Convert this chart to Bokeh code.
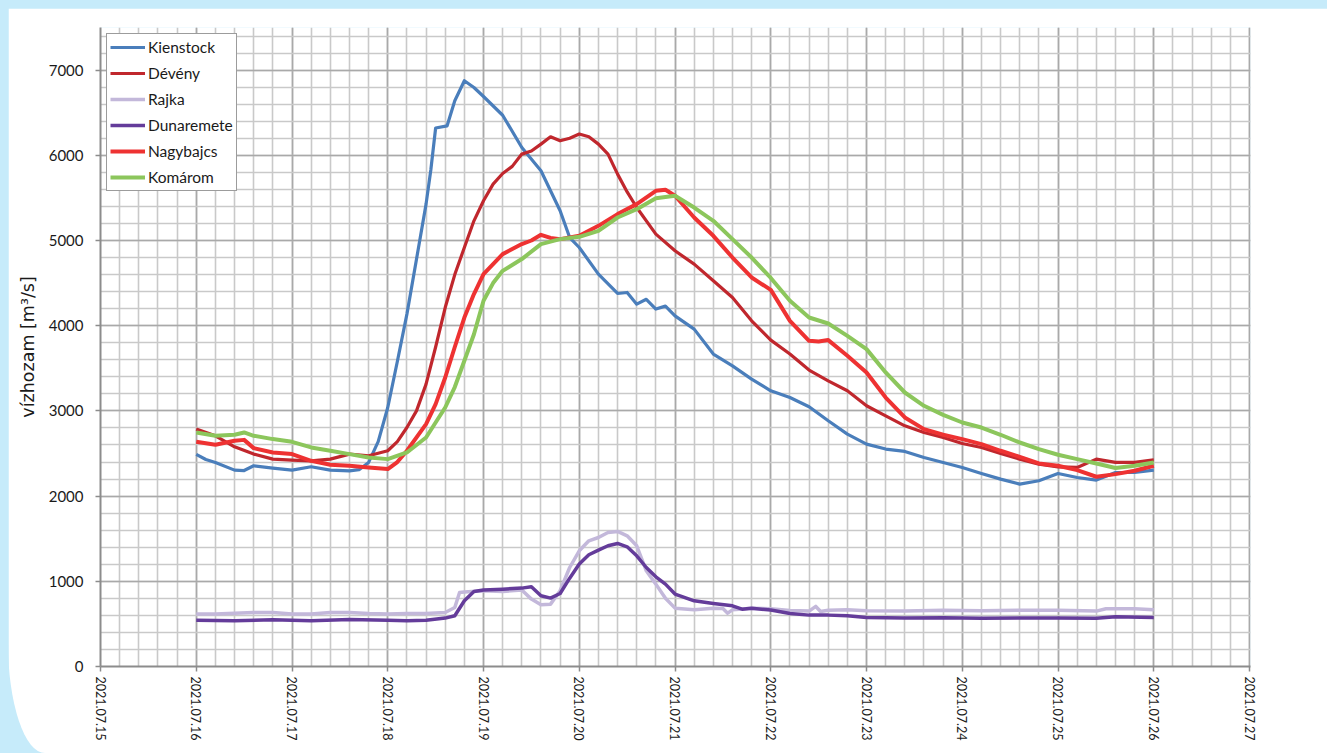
from bokeh.plotting import figure
from bokeh.models import SingleIntervalTicker, Legend, LegendItem, Range1d, Spacer
from bokeh.layouts import column, row
from bokeh.embed import file_html
from bokeh.resources import INLINE

# ---- data (day of July 2021, discharge m3/s) ----
days = list(range(15, 28))
day_labels = [f"2021.07.{d:02d}" for d in days]

kienstock_t = [16.0, 16.1, 16.2, 16.4, 16.5, 16.6, 16.8, 17.0, 17.2, 17.4, 17.6, 17.7, 17.8, 17.9,
               18.0, 18.1, 18.2, 18.3, 18.4, 18.45, 18.5, 18.62, 18.7, 18.8, 18.9, 19.0, 19.2, 19.4,
               19.6, 19.8, 19.9, 20.0, 20.2, 20.4, 20.5, 20.6, 20.7, 20.8, 20.9, 21.0, 21.2, 21.4,
               21.6, 21.8, 22.0, 22.2, 22.4, 22.6, 22.8, 23.0, 23.2, 23.4, 23.6, 23.8, 24.0, 24.2,
               24.4, 24.6, 24.8, 25.0, 25.2, 25.4, 25.6, 25.8, 26.0]
kienstock_q = [2490, 2430, 2395, 2305, 2300, 2356, 2329, 2305, 2344, 2305, 2297, 2310, 2395, 2640,
               3040, 3580, 4136, 4780, 5427, 5830, 6320, 6346, 6640, 6875, 6796, 6690, 6470, 6092,
               5818, 5349, 5035, 4918, 4606, 4378, 4390, 4253, 4310, 4195, 4230, 4116, 3960, 3667,
               3529, 3373, 3236, 3157, 3048, 2884, 2728, 2610, 2552, 2524, 2453, 2395, 2336, 2265,
               2199, 2141, 2180, 2265, 2218, 2188, 2277, 2277, 2305]

deveny_t = [16.0, 16.2, 16.4, 16.6, 16.8, 17.0, 17.2, 17.4, 17.6, 17.8, 18.0, 18.1, 18.2, 18.3,
            18.4, 18.5, 18.6, 18.7, 18.8, 18.9, 19.0, 19.1, 19.2, 19.3, 19.4, 19.5, 19.6, 19.7,
            19.8, 19.9, 20.0, 20.1, 20.2, 20.3, 20.4, 20.5, 20.6, 20.8, 21.0, 21.2, 21.4, 21.6,
            21.8, 22.0, 22.2, 22.4, 22.6, 22.8, 23.0, 23.2, 23.4, 23.6, 23.8, 24.0, 24.2, 24.4,
            24.6, 24.8, 25.0, 25.2, 25.4, 25.6, 25.8, 26.0]
deveny_q = [2786, 2708, 2579, 2493, 2434, 2423, 2414, 2434, 2493, 2473, 2532, 2640, 2805, 3000,
            3314, 3750, 4213, 4600, 4918, 5231, 5466, 5662, 5786, 5870, 6014, 6050, 6131, 6217,
            6170, 6200, 6249, 6217, 6131, 6014, 5779, 5570, 5387, 5075, 4879, 4723, 4527, 4331,
            4057, 3831, 3667, 3479, 3353, 3236, 3060, 2942, 2825, 2746, 2688, 2617, 2570, 2500,
            2434, 2375, 2344, 2336, 2434, 2395, 2395, 2426]

rajka_t = [16.0, 16.2, 16.4, 16.6, 16.8, 17.0, 17.2, 17.4, 17.6, 17.8, 18.0, 18.2, 18.4, 18.6,
           18.7, 18.75, 18.8, 19.0, 19.2, 19.4, 19.5, 19.6, 19.7, 19.8, 19.9, 20.0, 20.1, 20.2,
           20.3, 20.4, 20.5, 20.6, 20.7, 20.8, 20.9, 21.0, 21.2, 21.4, 21.5, 21.55, 21.6, 21.8,
           22.0, 22.2, 22.4, 22.47, 22.52, 22.6, 22.8, 23.0, 23.4, 23.8, 24.2, 24.6, 25.0, 25.4,
           25.5, 25.8, 26.0]
rajka_q = [615, 615, 626, 634, 634, 615, 615, 634, 634, 622, 615, 622, 622, 634,
           693, 869, 875, 889, 881, 897, 791, 724, 732, 889, 1162, 1358, 1475, 1514,
           1573, 1585, 1534, 1417, 1123, 967, 800, 685, 665, 685, 680, 626, 665, 685,
           677, 657, 650, 705, 645, 660, 665, 655, 650, 660, 655, 660, 660, 650,
           677, 677, 665]

dunaremete_t = [16.0, 16.4, 16.8, 17.2, 17.6, 18.0, 18.2, 18.4, 18.6, 18.7, 18.8, 18.9, 19.0,
                19.2, 19.4, 19.5, 19.6, 19.7, 19.8, 19.9, 20.0, 20.1, 20.2, 20.3, 20.4, 20.5,
                20.6, 20.7, 20.8, 20.9, 21.0, 21.2, 21.4, 21.6, 21.7, 21.8, 22.0, 22.2, 22.4,
                22.6, 22.8, 23.0, 23.4, 23.8, 24.2, 24.6, 25.0, 25.4, 25.6, 26.0]
dunaremete_q = [544, 537, 548, 537, 552, 544, 537, 544, 568, 595, 771, 881, 897,
                908, 920, 936, 830, 803, 857, 1037, 1202, 1311, 1366, 1417, 1444, 1405,
                1299, 1162, 1053, 967, 850, 771, 740, 712, 673, 685, 662, 622, 603,
                603, 595, 575, 568, 572, 565, 570, 568, 565, 583, 575]

nagybajcs_t = [16.0, 16.2, 16.4, 16.5, 16.6, 16.8, 17.0, 17.2, 17.4, 17.6, 17.8, 18.0, 18.1, 18.2,
               18.4, 18.5, 18.6, 18.7, 18.8, 18.9, 19.0, 19.2, 19.4, 19.5, 19.6, 19.7, 19.8, 20.0,
               20.2, 20.4, 20.6, 20.8, 20.9, 21.0, 21.2, 21.4, 21.6, 21.8, 22.0, 22.2, 22.4, 22.5,
               22.6, 22.8, 23.0, 23.2, 23.4, 23.6, 23.8, 24.0, 24.2, 24.4, 24.6, 24.8, 25.0, 25.2,
               25.4, 25.6, 25.8, 26.0]
nagybajcs_q = [2637, 2602, 2649, 2660, 2563, 2512, 2493, 2414, 2367, 2356, 2336, 2317, 2400, 2532,
               2845, 3080, 3392, 3750, 4096, 4371, 4606, 4840, 4958, 5000, 5067, 5030, 5016, 5055,
               5172, 5310, 5427, 5583, 5595, 5525, 5270, 5055, 4800, 4566, 4420, 4057, 3823, 3815,
               3831, 3647, 3451, 3157, 2923, 2786, 2720, 2669, 2610, 2532, 2461, 2383, 2356, 2305,
               2227, 2258, 2297, 2356]

komarom_t = [16.0, 16.2, 16.4, 16.5, 16.6, 16.8, 17.0, 17.2, 17.4, 17.6, 17.8, 18.0, 18.2, 18.4,
             18.6, 18.7, 18.8, 18.9, 19.0, 19.1, 19.2, 19.4, 19.6, 19.8, 20.0, 20.2, 20.4, 20.6,
             20.8, 21.0, 21.2, 21.4, 21.6, 21.8, 22.0, 22.2, 22.4, 22.6, 22.8, 23.0, 23.2, 23.4,
             23.6, 23.8, 24.0, 24.2, 24.4, 24.6, 24.8, 25.0, 25.2, 25.4, 25.6, 25.8, 26.0]
komarom_q = [2747, 2708, 2720, 2747, 2708, 2669, 2637, 2571, 2532, 2493, 2453, 2434, 2512, 2688,
             3040, 3280, 3588, 3900, 4292, 4500, 4644, 4782, 4958, 5016, 5043, 5114, 5270, 5368,
             5497, 5525, 5387, 5231, 5016, 4800, 4560, 4292, 4096, 4026, 3881, 3725, 3451, 3216,
             3060, 2954, 2864, 2805, 2720, 2629, 2552, 2485, 2434, 2383, 2329, 2356, 2395]

series_names = ["Kienstock", "Dévény", "Rajka", "Dunaremete", "Nagybajcs", "Komárom"]
series_colors = ["#4a7ebb", "#c0272d", "#c3b8da", "#643c9a", "#ee3232", "#8cc65c"]
series_widths = [3.2, 3.2, 3.5, 3.5, 4, 4]
series_t = [kienstock_t, deveny_t, rajka_t, dunaremete_t, nagybajcs_t, komarom_t]
series_q = [kienstock_q, deveny_q, rajka_q, dunaremete_q, nagybajcs_q, komarom_q]

FONT = "Lato"
BG = "#c6ebfa"

p = figure(width=1319, height=745, x_range=Range1d(15, 27.01), y_range=Range1d(0, 7500),
           output_backend="svg", toolbar_location=None,
           min_border_left=92, min_border_right=77, min_border_top=19, min_border_bottom=87,
           background_fill_color="white", border_fill_color="white", outline_line_color=None)

p.xaxis.ticker = SingleIntervalTicker(interval=1, num_minor_ticks=5)
p.yaxis.ticker = SingleIntervalTicker(interval=1000, num_minor_ticks=5)
p.xaxis.major_label_overrides = {d: lab for d, lab in zip(days, day_labels)}
p.xaxis.major_label_orientation = "vertical"

for ax in (p.xaxis[0], p.yaxis[0]):
    ax.axis_line_color = "#8c8c8c"
    ax.axis_line_width = 2
    ax.major_tick_line_color = "#8c8c8c"
    ax.major_tick_line_width = 1.5
    ax.major_tick_out = 5
    ax.major_tick_in = 0
    ax.minor_tick_line_color = None
    ax.major_label_text_font = FONT
    ax.major_label_text_color = "#1a1a1a"
p.xaxis.major_label_text_font_size = "12.5px"
p.yaxis.major_label_text_font_size = "15px"
p.xaxis.major_label_standoff = 5
p.yaxis.major_label_standoff = 12
p.yaxis.axis_label = "vízhozam [m³/s]"
p.yaxis.axis_label_text_font = "DejaVu Sans"
p.yaxis.axis_label_text_font_size = "17.5px"
p.yaxis.axis_label_text_font_style = "normal"
p.yaxis.axis_label_text_color = "#1a1a1a"
p.yaxis.axis_label_standoff = 8

for g in (p.xgrid[0], p.ygrid[0]):
    g.grid_line_color = "#a9a9a9"
    g.grid_line_width = 1.6
    g.minor_grid_line_color = "#c9c9c9"
    g.minor_grid_line_width = 1.6

items = []
for name, col, w, t, q in zip(series_names, series_colors, series_widths, series_t, series_q):
    r = p.line(t, q, line_color=col, line_width=w, line_join="round")
    items.append(LegendItem(label=name, renderers=[r]))

legend = Legend(items=items, location="top_left", margin=6, padding=3, spacing=6,
                glyph_width=35, glyph_height=20, label_height=20, label_standoff=3,
                label_text_font=FONT, label_text_font_size="15.5px", label_text_color="#1a1a1a",
                border_line_color="#3a3a3a", border_line_width=1, background_fill_alpha=1)
p.add_layout(legend)

p.styles = {"border-bottom-left-radius": "37px 110px", "overflow": "hidden"}
top_pad = Spacer(width=1327, height=8, styles={"background-color": BG})
left_pad = Spacer(width=8, height=745, styles={"background-color": BG})
root = column(top_pad, row(left_pad, p, styles={"background-color": BG}),
              styles={"background-color": BG, "position": "fixed", "top": "0px", "left": "0px"})

open("out.html", "w").write(file_html(root, INLINE))
